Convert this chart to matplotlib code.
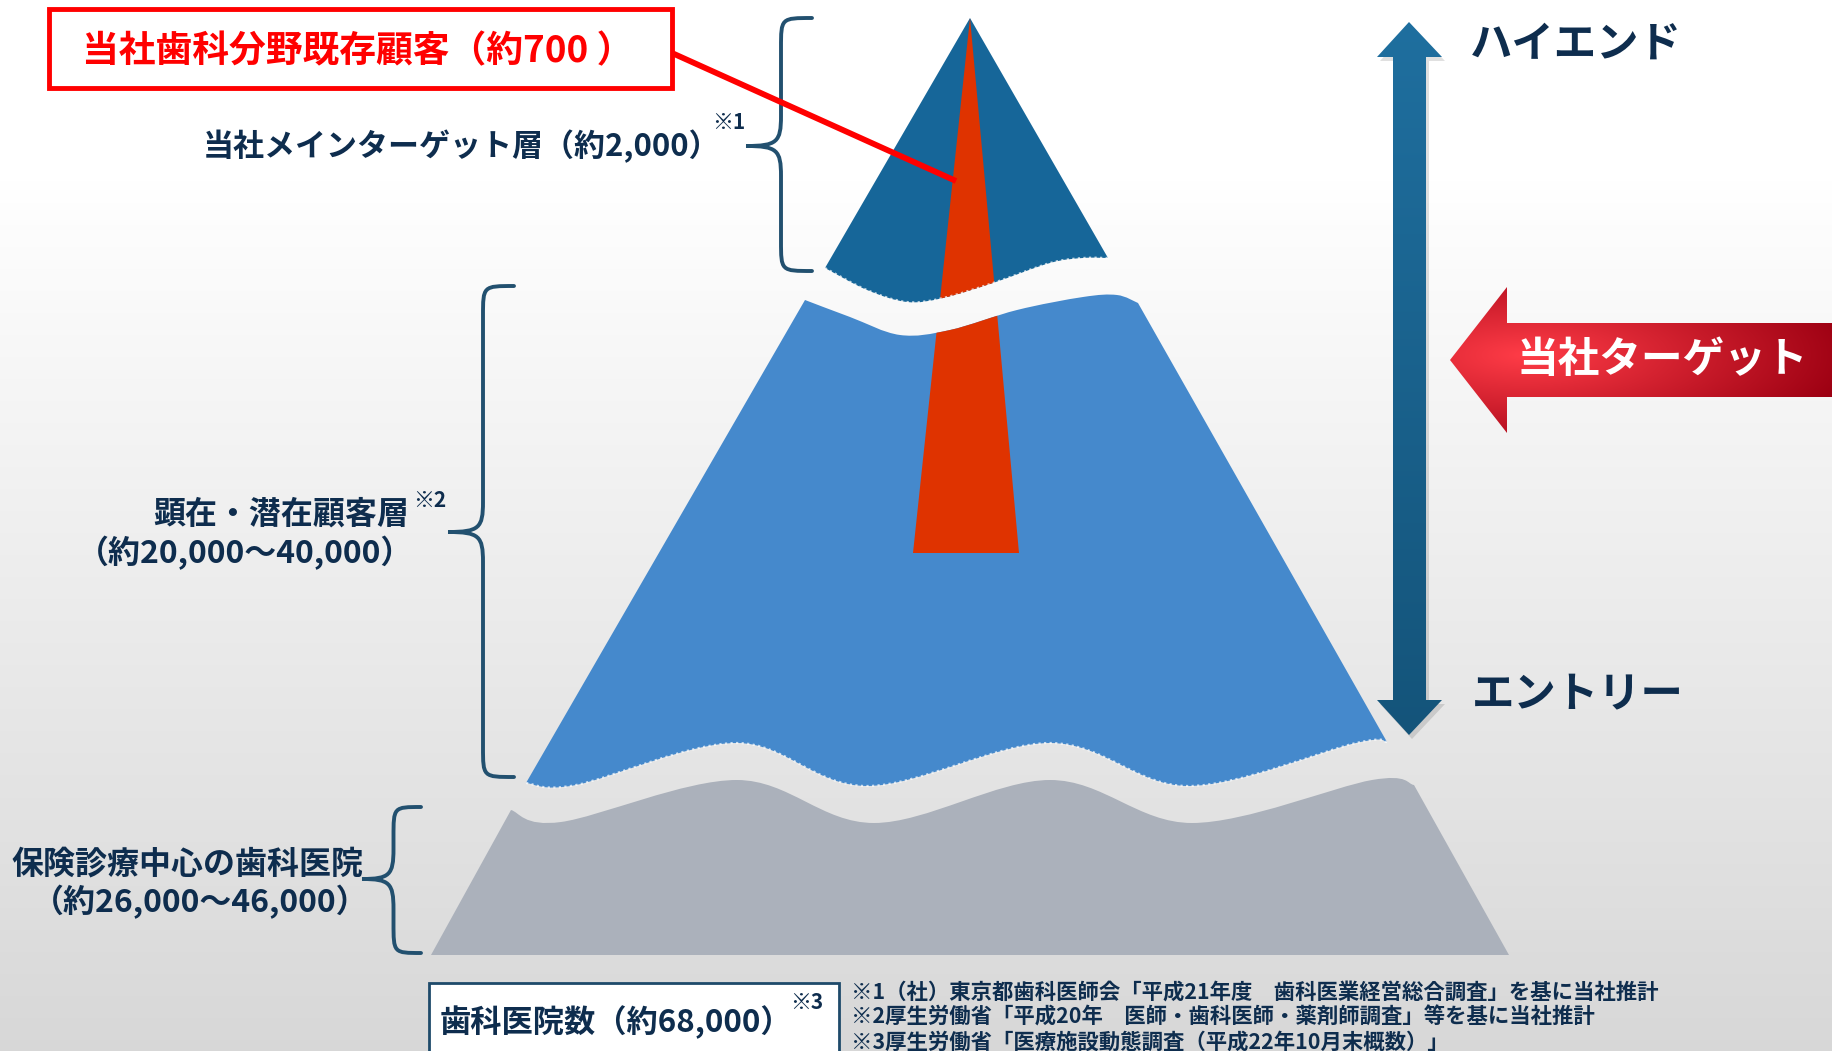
import numpy as np
import matplotlib.pyplot as plt
from matplotlib.path import Path
from matplotlib.patches import PathPatch, Polygon, Rectangle
from matplotlib.colors import to_rgb

plt.rcParams['font.family'] = ['Noto Sans CJK JP', 'DejaVu Sans']

W, H = 1833, 1051
NAVY = '#0e2d4e'
BRACE = '#22506f'

# pyramid outlines in pixel coords (y grows downward)
apex = (970, 18)
top_bottom_wave = [(825, 268), (867, 290), (907, 302), (943, 298), (993, 283),
                   (1050, 263), (1083, 258), (1108, 258)]
mid_top_wave = [(805, 300), (850, 317), (900, 335), (950, 330), (1017, 310),
                (1083, 297), (1117, 295), (1138, 303)]
mid_bottom_wave = [(526, 783), (576, 785), (737, 743), (867, 786), (1050, 743),
                   (1188, 786), (1356, 743), (1387, 742)]
base_top_wave = [(511, 810), (561, 822), (737, 780), (874, 823), (1050, 780),
                 (1192, 823), (1372, 780), (1414, 785)]
base_bottom = [(1509, 955), (431, 955)]
stripe = [(970, 18), (1019, 553), (913, 553)]

# labels
box_label = '当社歯科分野既存顧客（約700 ）'
main_label = '当社メインターゲット層（約2,000）'
mid_label = ['顕在・潜在顧客層', '（約20,000～40,000）']
base_label = ['保険診療中心の歯科医院', '（約26,000～46,000）']
total_label = '歯科医院数（約68,000）'
high_label, low_label = 'ハイエンド', 'エントリー'
target_label = '当社ターゲット'
notes = ['※1（社）東京都歯科医師会「平成21年度　歯科医業経営総合調査」を基に当社推計',
         '※2厚生労働省「平成20年　医師・歯科医師・薬剤師調査」等を基に当社推計',
         '※3厚生労働省「医療施設動態調査（平成22年10月末概数）」']


def smooth(pts):
    p = np.asarray(pts, float)
    p = np.vstack([p[0], p, p[-1]])
    out = [tuple(p[1])]
    for i in range(1, len(p) - 2):
        c1 = p[i] + (p[i + 1] - p[i - 1]) / 6
        c2 = p[i + 1] - (p[i + 2] - p[i]) / 6
        out += [tuple(c1), tuple(c2), tuple(p[i + 1])]
    return out


def build(parts, close=True):
    verts, codes = [], []
    for kind, pts in parts:
        if kind == 'L':
            for q in pts:
                verts.append(q)
                codes.append(Path.LINETO)
        else:
            sv = smooth(pts)
            verts.append(sv[0])
            codes.append(Path.LINETO)
            verts += sv[1:]
            codes += [Path.CURVE4] * (len(sv) - 1)
    codes[0] = Path.MOVETO
    if close:
        verts.append(verts[0])
        codes.append(Path.CLOSEPOLY)
    return Path(verts, codes)


def brace(ax, xr, xt, yt, yb, ym, r=30):
    xm = (xr + xt) / 2 + 2
    v = [(xr, yt), (xm, yt), (xm, yt), (xm, yt + r),
         (xm, ym - r), (xm, ym - 4), (xm - 4, ym), (xt, ym),
         (xm - 4, ym), (xm, ym + 4), (xm, ym + r),
         (xm, yb - r), (xm, yb), (xm, yb), (xr, yb)]
    c = [Path.MOVETO, Path.CURVE4, Path.CURVE4, Path.CURVE4,
         Path.LINETO, Path.CURVE4, Path.CURVE4, Path.CURVE4,
         Path.CURVE4, Path.CURVE4, Path.CURVE4,
         Path.LINETO, Path.CURVE4, Path.CURVE4, Path.CURVE4]
    ax.add_patch(PathPatch(Path(v, c), fill=False, ec=BRACE, lw=2.8,
                           capstyle='round', zorder=3))


fig = plt.figure(figsize=(W / 100, H / 100), dpi=100)
ax = fig.add_axes([0, 0, 1, 1])
ax.set_xlim(0, W)
ax.set_ylim(H, 0)
ax.axis('off')

# background: white top fading to light grey
yy = np.arange(H)
shade = np.where(yy < 180, 1.0, 1.0 - 0.155 * (yy - 180) / (H - 180))
ax.imshow(np.repeat(shade[:, None, None], 3, axis=2) * np.ones((1, 2, 3)),
          extent=[0, W, H, 0], aspect='auto', zorder=0)

# pyramid layers
top = PathPatch(build([('L', [apex]), ('C', top_bottom_wave)]),
                fc='#166699', ec='none', zorder=2)
mid = PathPatch(build([('C', mid_top_wave), ('C', mid_bottom_wave[::-1])]),
                fc='#4589cc', ec='none', zorder=2)
base = PathPatch(build([('C', base_top_wave), ('L', base_bottom)]),
                 fc='#abb1bb', ec='none', zorder=2)
for p in (top, mid, base):
    ax.add_patch(p)

for layer in (top, mid):
    s = Polygon(stripe, closed=True, fc='#df3300', ec='none', zorder=2.5)
    ax.add_patch(s)
    s.set_clip_path(layer)

for wave in (top_bottom_wave, mid_bottom_wave):
    ax.add_patch(PathPatch(build([('C', wave)], close=False), fill=False,
                           ec='white', lw=1.6, ls=(0, (1, 1.5)), alpha=0.7, zorder=2.6))

# red call-out box and leader
ax.add_patch(Rectangle((49, 9), 623, 79, fc='white', ec='#ff0000', lw=3.5, zorder=4))
ax.text(358, 52, box_label, color='#ff0000', fontsize=26.5, weight='bold',
        ha='center', va='center', zorder=5)
ax.plot([672, 956], [53, 181], color='#ff0000', lw=4.2, solid_capstyle='butt', zorder=4)

# braces and their labels
brace(ax, 812, 746, 18, 271, 146)
brace(ax, 514, 448, 286, 777, 532)
brace(ax, 421, 362, 807, 953, 879)

ax.text(720, 146, main_label, color=NAVY, fontsize=22.3, weight='bold',
        ha='right', va='center', zorder=5)
ax.text(712, 122, '※1', color=NAVY, fontsize=15, weight='bold', ha='left', va='center')
ax.text(409, 515, mid_label[0], color=NAVY, fontsize=23, weight='bold',
        ha='right', va='center')
ax.text(413, 500, '※2', color=NAVY, fontsize=15, weight='bold', ha='left', va='center')
ax.text(245, 553, mid_label[1], color=NAVY, fontsize=23, weight='bold',
        ha='center', va='center')
ax.text(187, 864, base_label[0], color=NAVY, fontsize=23, weight='bold',
        ha='center', va='center')
ax.text(200, 902, base_label[1], color=NAVY, fontsize=23, weight='bold',
        ha='center', va='center')

# vertical double arrow with gradient
varrow = [(1409, 22), (1442, 57), (1426, 57), (1426, 700), (1442, 700), (1409, 735),
          (1377, 700), (1393, 700), (1393, 57), (1377, 57)]
ax.add_patch(Polygon([(x + 3, y + 4) for x, y in varrow], fc='#000000', alpha=0.12,
                     ec='none', zorder=2))
vp = Polygon(varrow, closed=True, fc='none', ec='none', zorder=3)
ax.add_patch(vp)
c0, c1 = np.array(to_rgb('#1f6f9f')), np.array(to_rgb('#14547a'))
t = np.linspace(0, 1, 256)[:, None, None]
vgrad = (c0 * (1 - t) + c1 * t) * np.ones((1, 2, 3))
im = ax.imshow(vgrad, extent=[1377, 1442, 735, 22], aspect='auto', zorder=3)
im.set_clip_path(vp)
ax.text(1470, 45, high_label, color=NAVY, fontsize=30.5, weight='bold', ha='left', va='center')
ax.text(1472, 695, low_label, color=NAVY, fontsize=30.5, weight='bold', ha='left', va='center')

# red target arrow with radial shading
rarrow = [(1450, 360), (1507, 287), (1507, 323), (W, 323), (W, 397), (1507, 397), (1507, 433)]
rp = Polygon(rarrow, closed=True, fc='none', ec='none', zorder=3)
ax.add_patch(rp)
gx, gy = np.meshgrid(np.linspace(1450, W, 400), np.linspace(287, 433, 150))
d = np.clip(np.hypot((gx - 1525) / 330, (gy - 355) / 110), 0, 1)[..., None]
r0, r1 = np.array(to_rgb('#ff3c47')), np.array(to_rgb('#9c0012'))
im2 = ax.imshow(r0 * (1 - d) + r1 * d, extent=[1450, W, 433, 287], aspect='auto', zorder=3)
im2.set_clip_path(rp)
ax.text(1517, 360, target_label, color='white', fontsize=30, weight='bold',
        ha='left', va='center', zorder=5)

# total count box and footnotes
ax.add_patch(Rectangle((429, 983), 410, 90, fc='white', ec='#1e4a6a', lw=2, zorder=4))
ax.text(616, 1022, total_label, color=NAVY, fontsize=22.5, weight='bold',
        ha='center', va='center', zorder=5)
ax.text(790, 1002, '※3', color=NAVY, fontsize=15, weight='bold', ha='left', va='center', zorder=5)
for i, line in enumerate(notes):
    ax.text(851, 992 + 25 * i, line, color=NAVY, fontsize=15.4, weight='bold',
            ha='left', va='center')

fig.savefig('out.png', dpi=100)
